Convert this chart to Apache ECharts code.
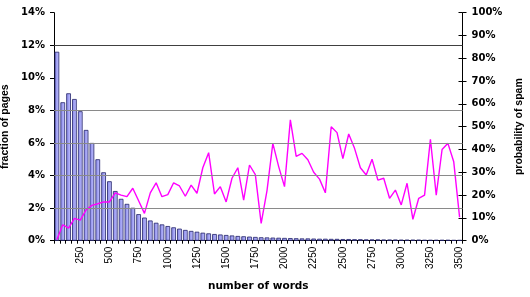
<!DOCTYPE html>
<html>
<head>
<meta charset="utf-8">
<script src="https://cdn.jsdelivr.net/npm/echarts@6/dist/echarts.min.js"></script>
<style>html,body{margin:0;padding:0;background:#fff}#c{width:530px;height:297px}</style>
</head>
<body>
<div id="c"></div>
<script>
var categories = ['50','100','150','200','250','300','350','400','450','500','550','600','650','700','750','800','850','900','950','1000','1050','1100','1150','1200','1250','1300','1350','1400','1450','1500','1550','1600','1650','1700','1750','1800','1850','1900','1950','2000','2050','2100','2150','2200','2250','2300','2350','2400','2450','2500','2550','2600','2650','2700','2750','2800','2850','2900','2950','3000','3050','3100','3150','3200','3250','3300','3350','3400','3450','3500'];
var xTickLabels = ['250','500','750','1000','1250','1500','1750','2000','2250','2500','2750','3000','3250','3500'];
var fractionOfPages = [11.6,8.5,9.05,8.7,7.95,6.8,6.0,5.0,4.2,3.65,3.05,2.57,2.26,2.02,1.63,1.42,1.24,1.1,1.0,0.9,0.82,0.74,0.66,0.6,0.55,0.49,0.45,0.41,0.38,0.35,0.32,0.29,0.27,0.25,0.23,0.21,0.2,0.19,0.18,0.17,0.16,0.15,0.14,0.14,0.13,0.12,0.12,0.11,0.11,0.1,0.1,0.09,0.09,0.08,0.08,0.08,0.07,0.07,0.07,0.06,0.06,0.06,0.06,0.05,0.05,0.05,0.05,0.05,0.04,0.04];
var probabilityOfSpam = [0.5,7,5.5,9.8,9,13.5,15.5,16.2,17,17,21,20,19.3,23,17.5,12,21,25.4,19.3,20.2,25.4,24,19.5,24.4,20.8,32,38.6,20.5,23.7,17,27.4,32,17.8,33.2,29,7.6,22,42.7,32.5,23.7,53,37,38.3,35.5,30,27,21,50,47.4,36,46.8,40.5,32,28.8,35.7,26.6,27.4,18.6,22.2,15.7,25.2,9.4,18.6,20,44.5,20,40,42.7,34.6,10.3];
var leftGridLines = [2,4,6,8,12];

var chart = echarts.init(document.getElementById('c'), null, {renderer:'canvas'});
var boldLabel = {fontFamily:'DejaVu Sans', fontWeight:'bold', fontSize:10, color:'#000'};
var titleFont = {fontFamily:'Liberation Sans', fontWeight:'bold', fontSize:10.5, color:'#000'};
chart.setOption({
  animation:false,
  grid:{left:54, right:67.5, top:12.7, bottom:56.3, containLabel:false, outerBoundsMode:'none'},
  xAxis:{
    type:'category', data:categories, boundaryGap:true,
    name:'number of words', nameLocation:'middle', nameGap:40,
    nameTextStyle:{fontFamily:'DejaVu Sans', fontWeight:'bold', fontSize:10.5, color:'#000'},
    axisLine:{lineStyle:{color:'#000', width:1}},
    axisTick:{show:true, interval:0, length:3, lineStyle:{color:'#000'}},
    axisLabel:{
      interval:function(i, v){ return xTickLabels.indexOf(v) >= 0; },
      rotate:90, margin:6, fontFamily:'Liberation Sans', fontSize:10, color:'#000'
    },
    splitLine:{show:false}
  },
  yAxis:[
    {type:'value', min:0, max:14, interval:2, position:'left',
     name:'fraction of pages', nameLocation:'middle', nameGap:37, nameRotate:90,
     nameTextStyle:titleFont,
     axisLine:{show:true, lineStyle:{color:'#000'}},
     axisTick:{show:true, length:4, lineStyle:{color:'#000'}},
     axisLabel:Object.assign({formatter:'{value}%', margin:9}, boldLabel),
     splitLine:{show:false}},
    {type:'value', min:0, max:100, interval:10, position:'right',
     name:'probability of spam', nameLocation:'middle', nameGap:48, nameRotate:90,
     nameTextStyle:titleFont,
     axisLine:{show:true, lineStyle:{color:'#000'}},
     axisTick:{show:true, length:4, lineStyle:{color:'#000'}},
     axisLabel:Object.assign({formatter:'{value}%', margin:9}, boldLabel),
     splitLine:{show:false}},
    {type:'value', min:0, max:100, interval:10, position:'right',
     axisLine:{show:false},
     axisTick:{show:true, inside:true, length:4, lineStyle:{color:'#000'}},
     axisLabel:{show:false}, splitLine:{show:false}}
  ],
  series:[
    {type:'line', yAxisIndex:0, data:[], z:1, silent:true,
     markLine:{silent:true, symbol:['none','none'], label:{show:false},
       lineStyle:{color:'#808080', width:1, type:'solid'},
       data:leftGridLines.map(function(v){ return {yAxis:v, lineStyle:{color: v===12 ? '#404040' : '#8a8a8a'}}; })}},
    {type:'bar', yAxisIndex:0, data:fractionOfPages, z:2, barCategoryGap:'20%',
     itemStyle:{
       color:new echarts.graphic.LinearGradient(0,0,1,0,[
         {offset:0,color:'#8a8ae4'},{offset:0.5,color:'#a2a2f4'},{offset:1,color:'#c8c8ff'}]),
       borderColor:'#22226a', borderWidth:0.8}},
    {type:'line', yAxisIndex:1, data:probabilityOfSpam, z:3, symbol:'none',
     lineStyle:{color:'#ff00ff', width:1.4}}
  ]
});
</script>
</body>
</html>
